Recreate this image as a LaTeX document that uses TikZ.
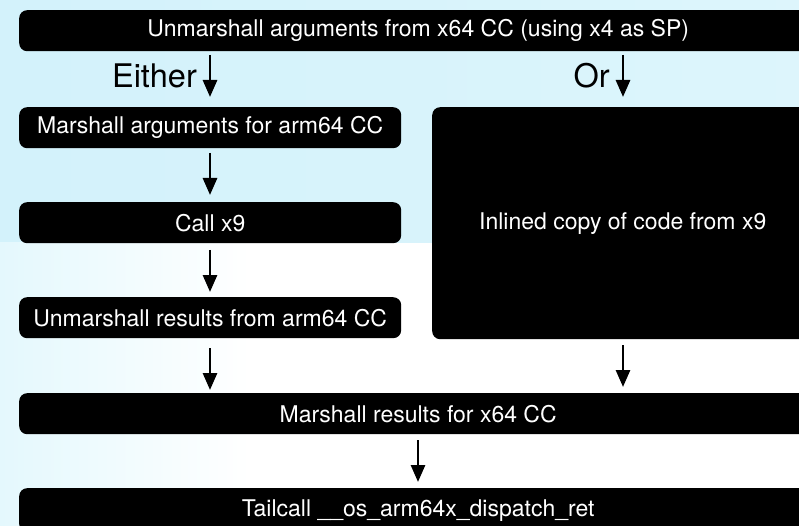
\documentclass[tikz,border=0pt]{standalone}
\usepackage{fontspec}
\setmainfont{TeX Gyre Heros}
\usetikzlibrary{arrows.meta}
\definecolor{skyA}{HTML}{D3F2FB}
\definecolor{skyB}{HTML}{E4F8FD}
\begin{document}
\begin{tikzpicture}[x=1pt,y=-1pt,
  blk/.style={fill=black,text=white,rounded corners=8pt,inner sep=0pt,font=\fontsize{23}{26}\selectfont,minimum height=41pt,anchor=north west},
  lbl/.style={font=\fontsize{32.5}{36}\selectfont,inner sep=0pt},
  arr/.style={line width=2.8pt,-{Triangle[width=14pt,length=17pt]}}]
\useasboundingbox (0,0) rectangle (799,526);
\clip (0,0) rectangle (799,526);
\fill[skyA] (0,0) rectangle (799,243);
\shade[left color=skyA,right color=skyB,opacity=0.6] (0,0) rectangle (799,243);
\fill[white] (0,243) rectangle (799,526);
\shade[left color=skyB,right color=white] (0,243) rectangle (250,526);
\node[blk,minimum width=798pt] (top) at (19,10) {Unmarshall arguments from x64 CC (using x4 as SP)};
\node[blk,minimum width=382pt] (ma) at (19,107) {Marshall arguments for arm64 CC};
\node[blk,minimum width=382pt] (call) at (19,202) {Call x9};
\node[blk,minimum width=382pt] (ur) at (19,297) {Unmarshall results from arm64 CC};
\node[blk,minimum width=381pt,minimum height=232pt] (inl) at (432,107) {Inlined copy of code from x9};
\node[blk,minimum width=798pt] (mr) at (19,393) {Marshall results for x64 CC};
\node[blk,minimum width=798pt,minimum height=44pt] (tc) at (19,488) {Tailcall \_\_os\_arm64x\_dispatch\_ret};
\coordinate (eA) at (210,55);
\coordinate (eB) at (210,97);
\coordinate (oA) at (623,55);
\coordinate (oB) at (623,97);
\node[lbl,anchor=east] (either) at (197,76) {Either};
\node[lbl,anchor=east] (or) at (610,76) {Or};
\draw[arr] (eA) -- (eB);
\draw[arr] (oA) -- (oB);
\draw[arr] (210,153) -- (210,195);
\draw[arr] (210,250) -- (210,292);
\draw[arr] (210,348) -- (210,390);
\draw[arr] (623,345) -- (623,387);
\draw[arr] (418,440) -- (418,482);
\end{tikzpicture}
\end{document}
